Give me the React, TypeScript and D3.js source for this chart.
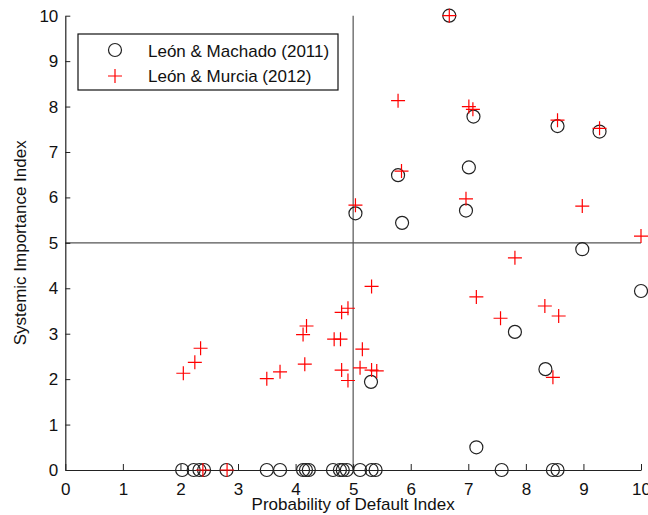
import React, { useRef, useEffect } from "react";
import * as d3 from "d3";

// León & Machado (2011) - circles
const machadoX = [
  6.67, 5.78, 7.09, 8.55, 9.28, 7.01, 6.96, 5.85, 5.04, 8.98, 10.0, 7.81, 8.34, 5.31, 7.14,
  2.03, 2.23, 2.33, 2.41, 2.8, 3.5, 3.73, 4.13, 4.18, 4.23, 4.65, 4.77, 4.82, 4.89, 5.12,
  5.32, 5.39, 7.58, 8.47, 8.55,
];
const machadoY = [
  10, 6.49, 7.78, 7.57, 7.45, 6.66, 5.71, 5.44, 5.65, 4.86, 3.94, 3.04, 2.22, 1.94, 0.5,
  0, 0, 0, 0, 0, 0, 0, 0, 0, 0, 0, 0, 0, 0, 0,
  0, 0, 0, 0, 0,
];

// León & Murcia (2012) - crosses
const murciaX = [
  2.05, 2.25, 2.35, 3.5, 3.73, 4.16, 4.13, 4.19, 4.67, 4.78, 4.91, 4.8, 5.16, 4.8, 5.12,
  5.32, 5.41, 4.91, 5.32, 5.04, 2.39, 2.81, 6.67, 5.78, 7.01, 7.08, 5.84, 6.96, 8.55, 9.28,
  8.98, 10.0, 7.81, 7.14, 7.56, 8.33, 8.57, 8.47,
];
const murciaY = [
  2.13, 2.37, 2.68, 2.01, 2.16, 2.33, 2.98, 3.17, 2.88, 2.88, 3.56, 3.47, 2.66, 2.2, 2.25,
  2.2, 2.18, 1.97, 4.04, 5.83, 0, 0, 10, 8.13, 8.0, 7.94, 6.58, 5.97, 7.7, 7.52,
  5.81, 5.15, 4.67, 3.81, 3.34, 3.61, 3.39, 2.04,
];

const xTicks = [0, 1, 2, 3, 4, 5, 6, 7, 8, 9, 10];
const yTicks = [0, 1, 2, 3, 4, 5, 6, 7, 8, 9, 10];
const seriesNames = ["León & Machado (2011)", "León & Murcia (2012)"];

const font = "Arial, 'Liberation Sans', sans-serif";

const App = () => {
  const ref = useRef<SVGSVGElement>(null);

  useEffect(() => {
    const width = 648;
    const height = 515;
    const x = d3.scaleLinear().domain([0, 10]).range([65.3, 641]);
    const y = d3.scaleLinear().domain([0, 10]).range([470, 15.7]);

    const svg = d3.select(ref.current).attr("width", width).attr("height", height);
    svg.selectAll("*").remove();

    // reference lines at 5
    svg
      .append("line")
      .attr("x1", x(5))
      .attr("x2", x(5))
      .attr("y1", y(10))
      .attr("y2", y(0))
      .attr("stroke", "#555")
      .attr("stroke-width", 1.2);
    svg
      .append("line")
      .attr("x1", x(0))
      .attr("x2", x(10))
      .attr("y1", y(5))
      .attr("y2", y(5))
      .attr("stroke", "#555")
      .attr("stroke-width", 1.2);

    // x axis (ticks inward)
    const xAxis = svg
      .append("g")
      .attr("transform", `translate(0, ${y(0)})`)
      .call(d3.axisBottom(x).tickValues(xTicks).tickSizeInner(-6).tickSizeOuter(0).tickPadding(13));
    // y axis
    const yAxis = svg
      .append("g")
      .attr("transform", `translate(${x(0)}, 0)`)
      .call(d3.axisLeft(y).tickValues(yTicks).tickSizeInner(-5).tickSizeOuter(0).tickPadding(7));

    [xAxis, yAxis].forEach((g) => {
      g.select(".domain").attr("stroke", "#222").attr("stroke-width", 1.2);
      g.selectAll(".tick line").attr("stroke", "#222");
      g.selectAll(".tick text")
        .attr("fill", "#111")
        .style("font-family", font)
        .style("font-size", "17px");
    });

    // circles
    svg
      .append("g")
      .selectAll("circle")
      .data(machadoX.map((v, i) => [v, machadoY[i]]))
      .enter()
      .append("circle")
      .attr("cx", (d) => x(d[0]))
      .attr("cy", (d) => y(d[1]))
      .attr("r", 6.5)
      .attr("fill", "none")
      .attr("stroke", "#222")
      .attr("stroke-width", 1.2);

    // crosses
    const cross = (cx: number, cy: number) =>
      `M${cx - 7},${cy}H${cx + 7}M${cx},${cy - 7}V${cy + 7}`;
    svg
      .append("g")
      .selectAll("path")
      .data(murciaX.map((v, i) => [v, murciaY[i]]))
      .enter()
      .append("path")
      .attr("d", (d) => cross(x(d[0]), y(d[1])))
      .attr("stroke", "#ff0000")
      .attr("stroke-width", 1.2);

    // axis titles
    svg
      .append("text")
      .attr("x", (x(0) + x(10)) / 2)
      .attr("y", 510)
      .attr("text-anchor", "middle")
      .style("font-family", font)
      .style("font-size", "17px")
      .attr("fill", "#111")
      .text("Probability of Default Index");
    svg
      .append("text")
      .attr("transform", `translate(26, ${(y(0) + y(10)) / 2}) rotate(-90)`)
      .attr("text-anchor", "middle")
      .style("font-family", font)
      .style("font-size", "17px")
      .attr("fill", "#111")
      .text("Systemic Importance Index");

    // legend
    const lg = svg.append("g");
    lg.append("rect")
      .attr("x", 78)
      .attr("y", 34)
      .attr("width", 260)
      .attr("height", 56)
      .attr("fill", "white")
      .attr("stroke", "#111")
      .attr("stroke-width", 1.2);
    lg.append("circle")
      .attr("cx", 115)
      .attr("cy", 50)
      .attr("r", 6.5)
      .attr("fill", "none")
      .attr("stroke", "#222")
      .attr("stroke-width", 1.2);
    lg.append("path").attr("d", cross(115, 76)).attr("stroke", "#ff0000").attr("stroke-width", 1.2);
    lg.selectAll("text")
      .data(seriesNames)
      .enter()
      .append("text")
      .attr("x", 148)
      .attr("y", (d, i) => 56.5 + i * 25)
      .style("font-family", font)
      .style("font-size", "17px")
      .attr("fill", "#111")
      .text((d) => d);
  }, []);

  return <svg ref={ref} style={{ position: "absolute", left: 0, top: 0 }}></svg>;
};

export default App;
